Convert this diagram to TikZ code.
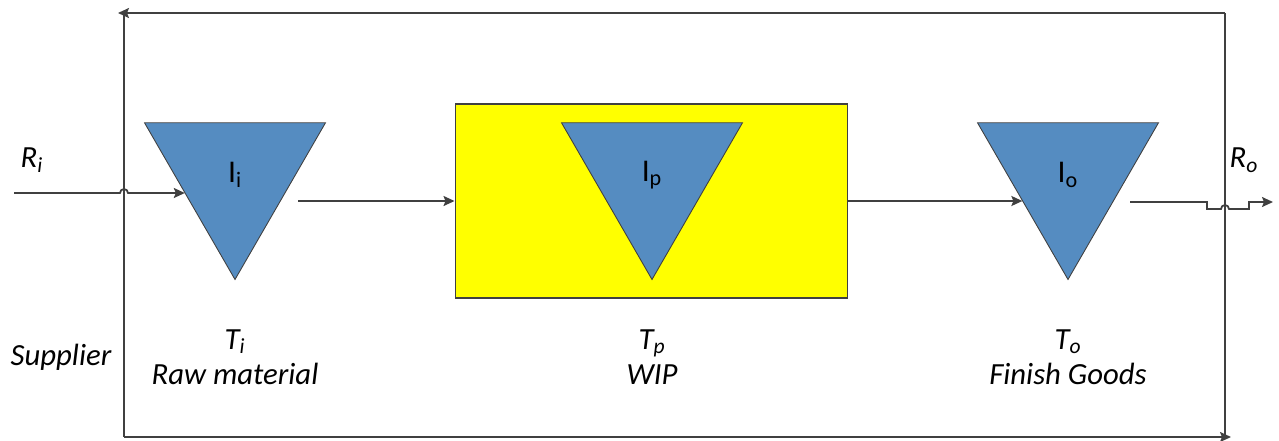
\documentclass[tikz,border=0pt]{standalone}
\usepackage{fontspec}
\setmainfont{Carlito}
\usepackage{tikz}
\usetikzlibrary{shapes.geometric, arrows.meta, positioning, calc}
\definecolor{mydark}{RGB}{64,64,64}
\definecolor{myblue}{RGB}{85,140,193}
\definecolor{myyellow}{RGB}{255,255,0}
\tikzset{
  stock/.style={regular polygon, regular polygon sides=3, shape border rotate=180,
    draw=mydark, fill=myblue, line width=0.5pt, minimum size=4.18cm, inner sep=0pt,
    font=\fontsize{18}{21}\selectfont},
  wipbox/.style={rectangle, draw=mydark, fill=myyellow, line width=0.6pt,
    minimum width=7.86cm, minimum height=3.88cm, inner sep=0pt},
  lbl/.style={font=\fontsize{17.5}{20}\selectfont\itshape, align=center, inner sep=0pt},
  arrow/.style={-{Stealth[length=0.22cm, width=0.2cm, inset=0.04cm]}, line width=1pt, color=mydark},
  line/.style={line width=1pt, color=mydark}
}

\begin{document}
\begin{tikzpicture}[x=0.02cm, y=-0.02cm]
  \useasboundingbox (0,0) rectangle (1279,440);

  % --- stocks ---
  \node[stock] (Ii) at (235,175) {I\textsubscript{i}};
  \node[wipbox] (wip) at (651.5,201) {};
  \node[stock] (Ip) at (652,175) {I\textsubscript{p}};
  \node[stock] (Io) at (1068,175) {I\textsubscript{o}};

  % --- labels ---
  \node[lbl] (Ri) at (32,160) {R\textsubscript{i}};
  \node[lbl] (Ro) at (1244,160) {R\textsubscript{o}};
  \node[lbl] (Ti) at (235,357) {T\textsubscript{i}\\Raw material};
  \node[lbl] (Tp) at (652,357) {T\textsubscript{p}\\WIP};
  \node[lbl] (To) at (1068,357) {T\textsubscript{o}\\Finish Goods};
  \node[lbl] (sup) at (61,357) {Supplier};

  % --- feedback loop ---
  \coordinate (tl) at (124,13);
  \coordinate (tr) at (1225,13);
  \coordinate (bl) at (124,437);
  \coordinate (br) at (1225,437);
  \draw[arrow] (tr) -- ($(tl)+(-6,0)$);
  \draw[line] (tl) -- (bl);
  \draw[line] (tr) -- (br);
  \draw[arrow] (bl) -- ($(br)+(6,0)$);

  % --- flow ---
  \coordinate (inA) at (14,193);
  \coordinate (iiin) at ($(Ii.corner 3)!0.45!(Ii.corner 1)$);
  \draw[arrow] (inA) -- ($(tl |- inA)+(-4,0)$) arc[start angle=180, end angle=0, radius=0.08cm] -- (inA -| iiin);

  \coordinate (iiout) at (298,201);
  \draw[arrow] (iiout) -- (iiout -| wip.west);

  \coordinate (ioin) at ($(Io.corner 3)!0.5!(Io.corner 1)$);
  \draw[arrow] (wip.east) -- (wip.east -| ioin);

  \coordinate (ioout) at (1130,202);
  \coordinate (outA) at (1207,209);
  \coordinate (outB) at (1249,209);
  \draw[arrow] (ioout) -- (ioout -| outA) -- (outA) -- ($(tr |- outA)+(-4,0)$)
    arc[start angle=180, end angle=0, radius=0.08cm] -- (outB) -- (outB |- ioout) -- (1273,202);
\end{tikzpicture}
\end{document}
